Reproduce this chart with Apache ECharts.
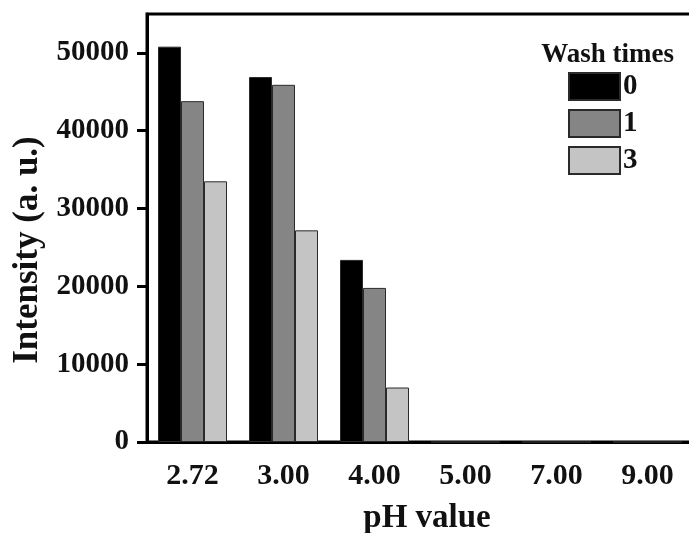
<!DOCTYPE html>
<html>
<head>
<meta charset="utf-8">
<script src="https://cdn.jsdelivr.net/npm/echarts@6/dist/echarts.min.js"></script>
<style>
  html, body { margin: 0; padding: 0; background: #fff; }
  #chart { width: 689px; height: 533px; }
</style>
</head>
<body>
<div id="chart"></div>
<script>
// pH values on the category axis
var categories = ['2.72', '3.00', '4.00', '5.00', '7.00', '9.00'];
// Intensity (a. u.) for each number of washes
var wash0 = [50800, 46900, 23400, 0, 0, 0];
var wash1 = [43800, 45900, 19800, 0, 0, 0];
var wash3 = [33500, 27200, 7000, 0, 0, 0];
var seriesNames = ['0', '1', '3'];
var yTicks = [0, 10000, 20000, 30000, 40000, 50000];

var FONT = '"Liberation Serif", "Times New Roman", serif';
var chart = echarts.init(document.getElementById('chart'), null, { renderer: 'canvas' });

function bar(name, data, color) {
  return {
    name: name,
    type: 'bar',
    data: data,
    barWidth: 23,
    barGap: '0%',
    itemStyle: { color: color, borderColor: '#2a2a2a', borderWidth: 1 }
  };
}

chart.setOption({
  animation: false,
  backgroundColor: '#fff',
  title: {
    text: 'Wash times',
    right: 10,
    top: 37,
    textStyle: { fontFamily: FONT, fontWeight: 'bold', fontSize: 27, color: '#111' }
  },
  legend: {
    orient: 'vertical',
    left: 568,
    top: 72,
    padding: 0,
    itemWidth: 51,
    itemHeight: 27,
    itemGap: 8,
    icon: 'rect',
    data: seriesNames,
    textStyle: { fontFamily: FONT, fontWeight: 'bold', fontSize: 29, color: '#111', padding: [0, 0, 0, -2] }
  },
  grid: {
    left: 147,
    top: 14,
    right: -4,
    bottom: 91,
    containLabel: false,
    outerBoundsMode: 'none',
    show: true,
    borderColor: '#000',
    borderWidth: 3,
    backgroundColor: 'transparent'
  },
  xAxis: {
    type: 'category',
    data: categories,
    name: 'pH value',
    nameLocation: 'middle',
    nameGap: 60,
    nameTextStyle: { fontFamily: FONT, fontWeight: 'bold', fontSize: 33, color: '#111', padding: [0, 0, 0, 14] },
    axisLine: { lineStyle: { color: '#000', width: 3 } },
    axisTick: { alignWithLabel: true, length: 8, lineStyle: { color: '#000', width: 3 } },
    axisLabel: { fontFamily: FONT, fontWeight: 'bold', fontSize: 30, color: '#111', margin: 19 }
  },
  yAxis: {
    type: 'value',
    min: 0,
    max: 55000,
    interval: 10000,
    name: 'Intensity (a. u.)',
    nameLocation: 'middle',
    nameGap: 100,
    nameTextStyle: { fontFamily: FONT, fontWeight: 'bold', fontSize: 35, color: '#111', padding: [0, 44, 0, 0] },
    axisLine: { show: true, lineStyle: { color: '#000', width: 3 } },
    axisTick: { show: true, length: 10, customValues: yTicks, lineStyle: { color: '#000', width: 3 } },
    splitLine: { show: false },
    axisLabel: {
      fontFamily: FONT, fontWeight: 'bold', fontSize: 29, color: '#111', margin: 18,
      customValues: yTicks,
      formatter: function (v) { return String(v); }
    }
  },
  series: [
    bar(seriesNames[0], wash0, '#000000'),
    bar(seriesNames[1], wash1, '#858585'),
    bar(seriesNames[2], wash3, '#c4c4c4')
  ]
});
</script>
</body>
</html>
